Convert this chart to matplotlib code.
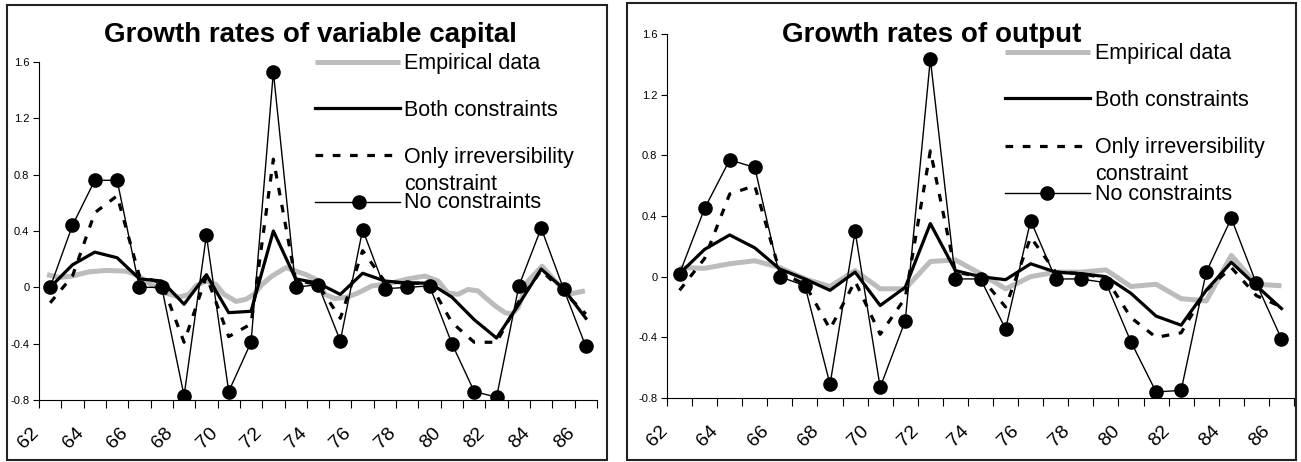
import matplotlib
matplotlib.use("Agg")
import matplotlib.pyplot as plt
import matplotlib.transforms as mtransforms
from matplotlib.lines import Line2D
from matplotlib.patches import Rectangle

plt.rcParams["font.family"] = ["Liberation Sans", "DejaVu Sans"]

W, H = 1301, 462

years = list(range(62, 87))
year_labels = list(range(62, 87, 2))
y_ticks = [-0.8, -0.4, 0, 0.4, 0.8, 1.2, 1.6]
y_tick_labels = ["-0.8", "-0.4", "0", "0.4", "0.8", "1.2", "1.6"]

# growth rates of variable capital
cap_emp_x = [61.86, 62.40, 62.98, 63.74, 64.50, 65.40, 65.85, 66.43, 67.19, 67.77,
             68.22, 68.53, 68.98, 69.43, 69.79, 70.33, 70.77, 71.13, 71.49, 71.94,
             72.57, 73.01, 73.46, 74.04, 74.31, 74.76, 75.30, 75.79, 76.42, 77.14,
             78.03, 78.79, 79.38, 79.82, 80.27, 80.72, 81.17, 81.48, 81.93, 82.38,
             82.69, 82.96, 83.41, 84.04, 84.62, 85.20, 85.96]
cap_emp = [0.09, 0.07, 0.08, 0.11, 0.12, 0.115, 0.09, 0.03, -0.04, -0.07,
           -0.05, 0.01, 0.045, 0.02, -0.05, -0.10, -0.085, -0.05, 0.02, 0.08,
           0.14, 0.115, 0.09, 0.045, -0.05, -0.08, -0.07, -0.04, 0.01, 0.025,
           0.06, 0.08, 0.045, -0.04, -0.05, -0.015, -0.025, -0.07, -0.13, -0.18,
           -0.19, -0.145, 0.045, 0.15, 0.045, -0.05, -0.025]
cap_both = [0.00, 0.16, 0.25, 0.21, 0.06, 0.045, -0.12, 0.09, -0.18, -0.17, 0.40, 0.06, 0.03,
            -0.05, 0.10, 0.045, 0.03, 0.03, -0.07, -0.23, -0.36, -0.12, 0.13, -0.01, -0.22]
cap_irrev = [-0.11, 0.08, 0.53, 0.65, 0.08, 0.03, -0.39, 0.08, -0.35, -0.26, 0.91, 0.05, 0.02,
             -0.22, 0.26, 0.04, 0.03, 0.03, -0.25, -0.39, -0.39, -0.10, 0.12, -0.03, -0.19]
cap_none = [0.00, 0.44, 0.76, 0.76, 0.00, 0.00, -0.77, 0.37, -0.74, -0.39, 1.53, 0.00, 0.02,
            -0.38, 0.41, -0.01, 0.00, 0.01, -0.40, -0.74, -0.78, 0.01, 0.42, -0.01, -0.42]

# growth rates of output
out_emp = [0.06, 0.055, 0.085, 0.105, 0.06, -0.015, -0.065, 0.04, -0.08, -0.08, 0.10, 0.11, 0.02,
           -0.08, 0.00, 0.03, 0.03, 0.045, -0.065, -0.05, -0.145, -0.16, 0.14, -0.05, -0.06]
out_both = [0.02, 0.18, 0.275, 0.19, 0.05, -0.015, -0.09, 0.03, -0.19, -0.07, 0.35, 0.04, 0.00,
            -0.02, 0.085, 0.03, 0.02, 0.00, -0.11, -0.26, -0.32, -0.09, 0.095, -0.06, -0.21]
out_irrev = [-0.09, 0.12, 0.545, 0.60, 0.03, -0.05, -0.345, -0.03, -0.38, -0.14, 0.83, 0.03, 0.00,
             -0.20, 0.26, 0.03, 0.02, -0.01, -0.27, -0.40, -0.37, -0.09, 0.06, -0.125, -0.20]
out_none = [0.02, 0.45, 0.77, 0.72, 0.00, -0.06, -0.71, 0.30, -0.73, -0.29, 1.435, -0.015, -0.015,
            -0.345, 0.37, -0.015, -0.015, -0.04, -0.43, -0.76, -0.75, 0.03, 0.385, -0.045, -0.41]

series_names = ["Empirical data", "Both constraints", "Only irreversibility", "No constraints"]

EMP = dict(color="#bcbcbc", lw=3.6, solid_capstyle="butt")
BOTH = dict(color="black", lw=2.3)
IRR = dict(color="black", lw=2.3, dashes=(2.4, 3.0))
NONE = dict(color="black", lw=1.0)
DOT = dict(marker="o", ms=9.5, color="black", lw=0)


def px(x, y):
    # pixel position (from top-left) to figure fraction
    return x / W, 1 - y / H


fig = plt.figure(figsize=(W / 100, H / 100), dpi=100)


def panel(box, title, title_pos, emp_x, emp, both, irrev, none, leg):
    x0, y0, x1, y1 = box
    ax = fig.add_axes([x0 / W, 1 - y1 / H, (x1 - x0) / W, (y1 - y0) / H])
    ax.plot(emp_x, emp, **EMP)
    ax.plot(years, irrev, **IRR)
    ax.plot(years, both, **BOTH)
    ax.plot(years, none, marker="o", ms=9.5, **NONE)

    ax.set_xlim(61.5, 86.5)
    ax.set_ylim(-0.8, 1.6)
    ax.set_yticks(y_ticks)
    ax.set_yticklabels(y_tick_labels, fontsize=8)
    ax.set_xticks([y - 0.5 for y in years] + [86.5])
    ax.set_xticklabels([])
    ax.tick_params(axis="y", direction="out", length=4, width=0.8, pad=3)
    ax.tick_params(axis="x", direction="out", length=6, width=0.8)
    for s in ("top", "right"):
        ax.spines[s].set_visible(False)
    for s in ("left", "bottom"):
        ax.spines[s].set_linewidth(0.8)
    ax.patch.set_alpha(0)

    # rotated year labels, every other category
    trans = ax.get_xaxis_transform() + mtransforms.ScaledTranslation(-0.08, -0.245, fig.dpi_scale_trans)
    for yr in year_labels:
        ax.text(yr, 0, str(yr), transform=trans, rotation=45, ha="right", va="top", fontsize=14)

    tx, ty = px(*title_pos)
    fig.text(tx, ty, title, ha="center", va="baseline", fontsize=20, fontweight="bold")

    # legend keys
    lx0, lx1, tx0, mx, rows, extra_y = leg
    styles = [EMP, BOTH, IRR, NONE]
    for (line_y, base_y), name, st in zip(rows, series_names, styles):
        a, b = px(lx0, line_y)
        c, _ = px(lx1, line_y)
        fig.add_artist(Line2D([a, c], [b, b], transform=fig.transFigure, **st))
        t, tb = px(tx0, base_y)
        fig.text(t, tb, name, ha="left", va="baseline", fontsize=15.5)
    m, mb = px(mx, rows[3][0])
    fig.add_artist(Line2D([m], [mb], transform=fig.transFigure, **DOT))
    t, tb = px(tx0, extra_y)
    fig.text(t, tb, "constraint", ha="left", va="baseline", fontsize=15.5)
    return ax


# chart frames
for fx0, fy0, fx1, fy1 in [(7, 5, 607, 460), (627, 3, 1296, 460)]:
    a, b = px(fx0, fy1)
    fig.add_artist(Rectangle((a, b), (fx1 - fx0) / W, (fy1 - fy0) / H, transform=fig.transFigure,
                             fill=False, ec="#222222", lw=1.5))

panel((39, 62, 597, 400), "Growth rates of variable capital", (310, 42.5),
      cap_emp_x, cap_emp, cap_both, cap_irrev, cap_none,
      (315, 400, 404, 359, [(62, 68.5), (108, 115.5), (155, 162.5), (202, 208.5)], 189.5))
panel((667, 34, 1294, 398), "Growth rates of output", (932, 41.5),
      years, out_emp, out_both, out_irrev, out_none,
      (1005, 1090, 1095, 1047, [(52, 59.5), (98, 105.5), (146, 153.5), (193, 200)], 180))

fig.savefig("out.png", dpi=100)
